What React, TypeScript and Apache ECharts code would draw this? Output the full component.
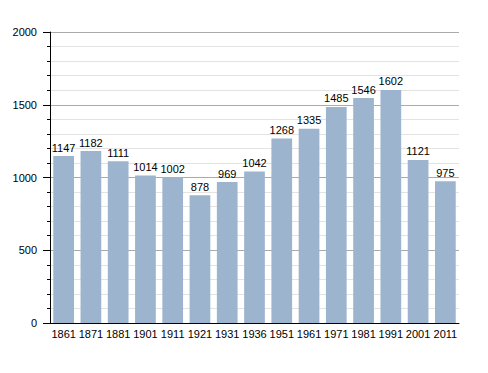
import React, { useEffect, useRef } from "react";
import * as echarts from "echarts";

const categories = ["1861", "1871", "1881", "1901", "1911", "1921", "1931", "1936", "1951", "1961", "1971", "1981", "1991", "2001", "2011"];
const population = [1147, 1182, 1111, 1014, 1002, 878, 969, 1042, 1268, 1335, 1485, 1546, 1602, 1121, 975];

export default function App() {
  const ref = useRef<HTMLDivElement>(null);
  useEffect(() => {
    if (!ref.current) return;
    const chart = echarts.init(ref.current, undefined, { renderer: "svg" });
    chart.setOption({
      animation: false,
      backgroundColor: "#ffffff",
      grid: { left: 50, right: 29, top: 32, bottom: 50, containLabel: false },
      xAxis: {
        type: "category",
        data: categories,
        axisLine: { lineStyle: { color: "#000", width: 1 } },
        axisTick: { show: false },
        axisLabel: { color: "#000", fontSize: 11, fontFamily: "Liberation Sans, Arial, sans-serif", margin: 5, interval: 0 },
      },
      yAxis: {
        type: "value",
        min: 0,
        max: 2000,
        interval: 500,
        axisLine: { show: true, lineStyle: { color: "#000", width: 1 } },
        axisTick: { show: true, length: 7, lineStyle: { color: "#000" } },
        minorTick: { show: true, splitNumber: 5, length: 3, lineStyle: { color: "#000" } },
        splitLine: { show: true, lineStyle: { color: "#aaaaaa", width: 1 } },
        minorSplitLine: { show: true, lineStyle: { color: "#e3e3e3", width: 1 } },
        axisLabel: {
          color: "#000",
          fontSize: 11,
          fontFamily: "Liberation Sans, Arial, sans-serif",
          margin: 13,
          formatter: (v: number) => String(v),
        },
      },
      series: [
        {
          type: "bar",
          data: population,
          barCategoryGap: "24%",
          itemStyle: { color: "#9db4cf" },
          label: {
            show: true,
            position: "top",
            distance: 3,
            color: "#000",
            fontSize: 11,
            fontFamily: "Liberation Sans, Arial, sans-serif",
          },
        },
      ],
    });
    return () => chart.dispose();
  }, []);
  return <div ref={ref} style={{ width: 488, height: 373, position: "absolute", left: 0, top: 0 }} />;
}
